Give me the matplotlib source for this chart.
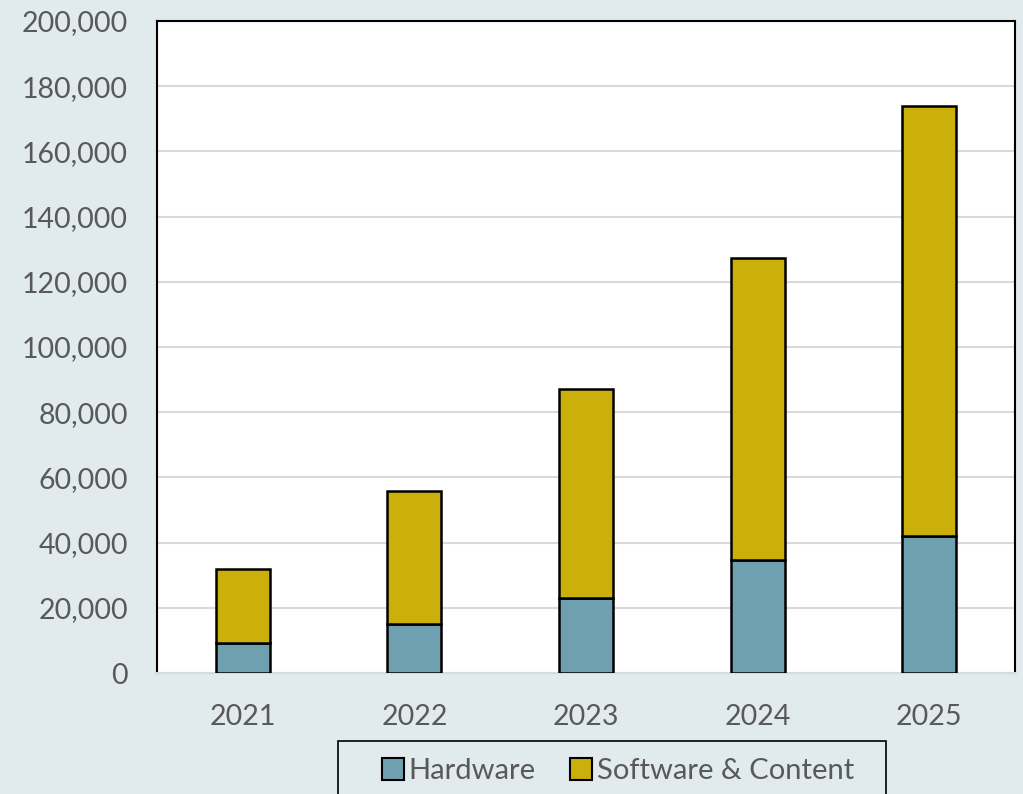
import matplotlib.pyplot as plt
from matplotlib.patches import Patch, Rectangle
import numpy as np

years = ["2021", "2022", "2023", "2024", "2025"]
hardware = [9100, 15000, 23100, 34800, 42000]
software_total = [31800, 55800, 87000, 127200, 174000]
software = [t - h for t, h in zip(software_total, hardware)]

bg = "#E1EAED"
hw_color = "#6FA0B0"
sw_color = "#CBAF0B"
text_color = "#595959"

plt.rcParams['font.family'] = ['Lato', 'DejaVu Sans']

fig = plt.figure(figsize=(10.23, 7.94), dpi=100, facecolor=bg)
ax = fig.add_axes([157 / 1023, 1 - 673 / 794, (1015 - 157) / 1023, (673 - 21) / 794])
ax.set_facecolor("white")

x = np.arange(len(years))
ax.bar(x, hardware, width=0.315, color=hw_color, edgecolor="black", linewidth=1.8, zorder=3)
ax.bar(x, software, width=0.315, bottom=hardware, color=sw_color, edgecolor="black", linewidth=1.8, zorder=3)

ax.set_xlim(-0.5, len(years) - 0.5)
ax.set_ylim(0, 200000)
ax.set_yticks(range(0, 200001, 20000))
ax.set_yticklabels([f"{v:,}" for v in range(0, 200001, 20000)])
ax.set_xticks(x)
ax.set_xticklabels(years)
ax.tick_params(axis="both", length=0, labelsize=20.5, labelcolor=text_color)
ax.tick_params(axis="y", pad=21)
ax.tick_params(axis="x", pad=22)
ax.grid(axis="y", color="#D9D9D9", linewidth=1.5, zorder=0)

for side in ["left", "top", "right"]:
    ax.spines[side].set_color("black")
    ax.spines[side].set_linewidth(1.5)
ax.spines["bottom"].set_color("#D9D9D9")
ax.spines["bottom"].set_linewidth(1.5)

# legend box, running off the bottom edge like the original
fig.patches.append(Rectangle((338 / 1023, -0.05), (886 - 338) / 1023, 0.05 + (794 - 741) / 794,
                             transform=fig.transFigure, facecolor=bg, edgecolor="black",
                             linewidth=1.2, zorder=1))

handles = [Patch(facecolor=hw_color, edgecolor="black", linewidth=1.5, label="Hardware"),
           Patch(facecolor=sw_color, edgecolor="black", linewidth=1.5, label="Software & Content")]
leg = fig.legend(handles=handles, loc="center", bbox_to_anchor=(618 / 1023, 1 - 771 / 794),
                 ncol=2, fontsize=21, frameon=False, borderpad=0,
                 handlelength=0.75, handleheight=0.75, handletextpad=0.15, columnspacing=1.2,
                 borderaxespad=0)
leg.set_zorder(2)
for t in leg.get_texts():
    t.set_color(text_color)

fig.savefig("out.png", dpi=100, facecolor=bg)
